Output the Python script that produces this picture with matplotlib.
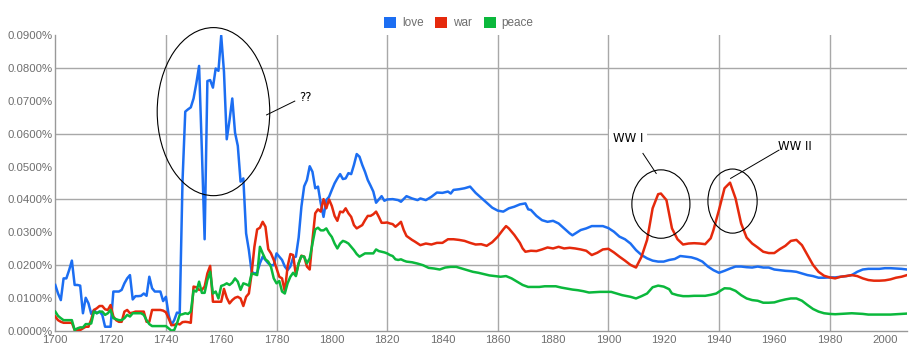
import matplotlib
matplotlib.use("Agg")
import matplotlib.pyplot as plt
from matplotlib.patches import Ellipse, Patch
from matplotlib.ticker import FuncFormatter, MultipleLocator

# ---------------- data (percent of corpus) ----------------
years_love = list(range(1700, 1821)) + [
    1822, 1824, 1825, 1827, 1829, 1831, 1832, 1834, 1836, 1838, 1840, 1842, 1843, 1844,
    1846, 1848, 1850, 1852, 1854, 1856, 1858, 1860, 1862, 1864, 1866, 1868, 1870, 1871,
    1872, 1874, 1876, 1878, 1880, 1882, 1884, 1886, 1887, 1890, 1892, 1894, 1896, 1898,
    1900, 1902, 1904, 1906, 1908, 1910, 1912, 1914, 1916, 1918, 1920, 1922, 1924, 1926,
    1928, 1930, 1932, 1934, 1936, 1938, 1940, 1942, 1944, 1946, 1948, 1950, 1952, 1954,
    1956, 1958, 1960, 1962, 1964, 1966, 1968, 1970, 1972, 1974, 1976, 1978, 1980, 1982,
    1984, 1986, 1988, 1990, 1992, 1994, 1996, 1998, 2000, 2002, 2004, 2006, 2008]
love = [
    0.0140, 0.0114, 0.0094, 0.0160, 0.0160, 0.0185, 0.0214, 0.0140, 0.0140, 0.0138,
    0.0054, 0.0101, 0.0084, 0.0052, 0.0064, 0.0054, 0.0059, 0.0049, 0.0013, 0.0013,
    0.0013, 0.0120, 0.0120, 0.0120, 0.0125, 0.0145, 0.0160, 0.0170, 0.0096, 0.0106,
    0.0106, 0.0107, 0.0114, 0.0107, 0.0165, 0.0130, 0.0120, 0.0120, 0.0120, 0.0091,
    0.0104, 0.0049, 0.0018, 0.0033, 0.0056, 0.0054, 0.0454, 0.0667, 0.0674, 0.0680,
    0.0707, 0.0753, 0.0806, 0.0550, 0.0279, 0.0760, 0.0763, 0.0740, 0.0798, 0.0791,
    0.0898, 0.0788, 0.0583, 0.0641, 0.0707, 0.0603, 0.0563, 0.0454, 0.0464, 0.0297,
    0.0246, 0.0180, 0.0175, 0.0177, 0.0206, 0.0226, 0.0216, 0.0206, 0.0200, 0.0200,
    0.0236, 0.0226, 0.0216, 0.0196, 0.0185, 0.0196, 0.0223, 0.0226, 0.0284, 0.0378,
    0.0440, 0.0459, 0.0501, 0.0484, 0.0434, 0.0439, 0.0388, 0.0347, 0.0398, 0.0408,
    0.0429, 0.0449, 0.0464, 0.0477, 0.0462, 0.0464, 0.0480, 0.0477, 0.0505, 0.0538,
    0.0530, 0.0505, 0.0484, 0.0459, 0.0442, 0.0424, 0.0390, 0.0400, 0.0410, 0.0396,
    0.0400,
    0.0401, 0.0398, 0.0393, 0.0410, 0.0403, 0.0398, 0.0403, 0.0398, 0.0408, 0.0421,
    0.0420, 0.0424, 0.0418, 0.0429, 0.0431, 0.0434, 0.0439, 0.0420, 0.0405, 0.0390,
    0.0375, 0.0366, 0.0363, 0.0373, 0.0378, 0.0385, 0.0388, 0.0370, 0.0368, 0.0350,
    0.0337, 0.0332, 0.0335, 0.0327, 0.0312, 0.0297, 0.0291, 0.0307, 0.0312, 0.0319,
    0.0319, 0.0319, 0.0313, 0.0302, 0.0287, 0.0279, 0.0266, 0.0246, 0.0231, 0.0221,
    0.0214, 0.0211, 0.0211, 0.0216, 0.0219, 0.0228, 0.0226, 0.0224, 0.0219, 0.0211,
    0.0196, 0.0185, 0.0177, 0.0183, 0.0190, 0.0196, 0.0196, 0.0194, 0.0193, 0.0196,
    0.0193, 0.0193, 0.0187, 0.0185, 0.0183, 0.0182, 0.0180, 0.0175, 0.0170, 0.0167,
    0.0162, 0.0162, 0.0163, 0.0163, 0.0165, 0.0167, 0.0170, 0.0180, 0.0187, 0.0189,
    0.0189, 0.0189, 0.0191, 0.0191, 0.0190, 0.0189, 0.0187]

years_war = list(range(1700, 1828)) + [
    1829, 1830, 1832, 1834, 1836, 1838, 1840, 1842, 1844, 1846, 1848, 1850, 1852, 1854,
    1856, 1858, 1860, 1862, 1863, 1864, 1866, 1868, 1869, 1870, 1872, 1874, 1876, 1878,
    1880, 1882, 1884, 1886, 1888, 1890, 1892, 1894, 1896, 1898, 1900, 1902, 1904, 1906,
    1908, 1910, 1912, 1914, 1916, 1918, 1919, 1921, 1923, 1925, 1927, 1929, 1931, 1933,
    1935, 1937, 1938, 1940, 1942, 1944, 1946, 1948, 1950, 1952, 1954, 1956, 1958, 1960,
    1962, 1964, 1966, 1968, 1970, 1972, 1974, 1976, 1978, 1980, 1982, 1984, 1986, 1988,
    1990, 1992, 1994, 1996, 1998, 2000, 2002, 2004, 2006, 2008]
war = [
    0.0044, 0.0033, 0.0028, 0.0025, 0.0025, 0.0025, 0.0025, 0.0003, 0.0003, 0.0003,
    0.0008, 0.0013, 0.0013, 0.0035, 0.0064, 0.0069, 0.0076, 0.0076, 0.0066, 0.0064,
    0.0079, 0.0044, 0.0033, 0.0028, 0.0028, 0.0059, 0.0064, 0.0054, 0.0056, 0.0059,
    0.0059, 0.0059, 0.0059, 0.0028, 0.0028, 0.0064, 0.0064, 0.0064, 0.0064, 0.0062,
    0.0057, 0.0038, 0.0018, 0.0018, 0.0023, 0.0020, 0.0027, 0.0028, 0.0027, 0.0025,
    0.0135, 0.0133, 0.0125, 0.0125, 0.0135, 0.0175, 0.0198, 0.0089, 0.0089, 0.0089,
    0.0089, 0.0128, 0.0101, 0.0084, 0.0094, 0.0101, 0.0104, 0.0099, 0.0076, 0.0104,
    0.0114, 0.0175, 0.0256, 0.0309, 0.0314, 0.0332, 0.0317, 0.0249, 0.0236, 0.0216,
    0.0190, 0.0165, 0.0160, 0.0120, 0.0196, 0.0234, 0.0231, 0.0170, 0.0206, 0.0229,
    0.0226, 0.0196, 0.0187, 0.0277, 0.0358, 0.0370, 0.0363, 0.0401, 0.0373, 0.0400,
    0.0380, 0.0350, 0.0335, 0.0363, 0.0361, 0.0373, 0.0358, 0.0347, 0.0322, 0.0312,
    0.0317, 0.0322, 0.0337, 0.0350, 0.0350, 0.0355, 0.0363, 0.0347, 0.0329, 0.0329,
    0.0330, 0.0327, 0.0325, 0.0317, 0.0324, 0.0332, 0.0307, 0.0289,
    0.0277, 0.0272, 0.0261, 0.0266, 0.0263, 0.0268, 0.0268, 0.0279, 0.0279, 0.0277,
    0.0274, 0.0268, 0.0263, 0.0264, 0.0259, 0.0270, 0.0287, 0.0309, 0.0319, 0.0312,
    0.0292, 0.0268, 0.0251, 0.0241, 0.0244, 0.0243, 0.0248, 0.0254, 0.0251, 0.0256,
    0.0251, 0.0253, 0.0251, 0.0248, 0.0244, 0.0231, 0.0238, 0.0248, 0.0250, 0.0239,
    0.0226, 0.0214, 0.0201, 0.0193, 0.0226, 0.0277, 0.0373, 0.0416, 0.0418, 0.0398,
    0.0312, 0.0279, 0.0263, 0.0266, 0.0267, 0.0266, 0.0264, 0.0282, 0.0307, 0.0368,
    0.0434, 0.0451, 0.0403, 0.0327, 0.0284, 0.0266, 0.0254, 0.0241, 0.0237, 0.0237,
    0.0249, 0.0259, 0.0274, 0.0277, 0.0261, 0.0231, 0.0201, 0.0180, 0.0168, 0.0163,
    0.0160, 0.0165, 0.0167, 0.0170, 0.0167, 0.0160, 0.0155, 0.0153, 0.0153, 0.0154,
    0.0157, 0.0162, 0.0165, 0.0170]

years_peace = list(range(1700, 1828)) + [
    1829, 1831, 1833, 1835, 1837, 1839, 1841, 1843, 1845, 1847, 1849, 1851, 1853, 1855,
    1857, 1859, 1861, 1863, 1865, 1867, 1869, 1871, 1873, 1875, 1877, 1879, 1881, 1883,
    1885, 1887, 1889, 1891, 1893, 1895, 1897, 1899, 1901, 1903, 1905, 1908, 1910, 1912,
    1914, 1916, 1918, 1920, 1922, 1923, 1925, 1927, 1929, 1931, 1933, 1935, 1937, 1939,
    1941, 1942, 1944, 1946, 1948, 1950, 1952, 1954, 1956, 1958, 1960, 1962, 1964, 1966,
    1968, 1970, 1972, 1974, 1976, 1978, 1980, 1982, 1984, 1986, 1988, 1990, 1992, 1994,
    1996, 1998, 2000, 2002, 2004, 2006, 2008]
peace = [
    0.0059, 0.0046, 0.0039, 0.0033, 0.0033, 0.0033, 0.0033, 0.0003, 0.0008, 0.0011,
    0.0011, 0.0021, 0.0021, 0.0023, 0.0059, 0.0054, 0.0059, 0.0059, 0.0049, 0.0054,
    0.0064, 0.0039, 0.0036, 0.0033, 0.0033, 0.0039, 0.0049, 0.0044, 0.0054, 0.0054,
    0.0054, 0.0054, 0.0049, 0.0033, 0.0021, 0.0015, 0.0015, 0.0015, 0.0015, 0.0015,
    0.0015, 0.0008, 0.0001, 0.0003, 0.0023, 0.0049, 0.0051, 0.0054, 0.0052, 0.0059,
    0.0123, 0.0120, 0.0150, 0.0116, 0.0116, 0.0155, 0.0180, 0.0114, 0.0120, 0.0099,
    0.0137, 0.0140, 0.0145, 0.0140, 0.0147, 0.0160, 0.0150, 0.0125, 0.0145, 0.0142,
    0.0138, 0.0175, 0.0173, 0.0170, 0.0256, 0.0236, 0.0218, 0.0211, 0.0195, 0.0160,
    0.0145, 0.0152, 0.0120, 0.0114, 0.0145, 0.0165, 0.0177, 0.0167, 0.0206, 0.0228,
    0.0226, 0.0206, 0.0221, 0.0266, 0.0309, 0.0314, 0.0306, 0.0306, 0.0312, 0.0297,
    0.0286, 0.0266, 0.0251, 0.0266, 0.0274, 0.0271, 0.0266, 0.0256, 0.0246, 0.0234,
    0.0226, 0.0231, 0.0236, 0.0236, 0.0236, 0.0236, 0.0248, 0.0243, 0.0241, 0.0239,
    0.0236, 0.0231, 0.0228, 0.0218, 0.0216, 0.0218, 0.0214, 0.0211,
    0.0209, 0.0205, 0.0200, 0.0192, 0.0190, 0.0187, 0.0193, 0.0195, 0.0195, 0.0190,
    0.0185, 0.0180, 0.0177, 0.0173, 0.0169, 0.0167, 0.0165, 0.0167, 0.0160, 0.0150,
    0.0140, 0.0134, 0.0134, 0.0134, 0.0136, 0.0136, 0.0136, 0.0132, 0.0129, 0.0126,
    0.0124, 0.0121, 0.0117, 0.0118, 0.0119, 0.0119, 0.0119, 0.0114, 0.0109, 0.0104,
    0.0099, 0.0106, 0.0114, 0.0133, 0.0138, 0.0135, 0.0127, 0.0114, 0.0109, 0.0106,
    0.0106, 0.0107, 0.0107, 0.0107, 0.0110, 0.0114, 0.0125, 0.0130, 0.0129, 0.0122,
    0.0109, 0.0099, 0.0094, 0.0092, 0.0086, 0.0086, 0.0087, 0.0092, 0.0096, 0.0099,
    0.0099, 0.0092, 0.0079, 0.0067, 0.0059, 0.0054, 0.0052, 0.0051, 0.0052, 0.0053,
    0.0054, 0.0053, 0.0052, 0.0050, 0.0050, 0.0050, 0.0050, 0.0050, 0.0051, 0.0052,
    0.0053]

series_names = ["love", "war", "peace"]
series_colors = ["#1c6ef2", "#e5290c", "#0bb83c"]
x_ticks = list(range(1700, 2001, 20))
x_grid = list(range(1740, 2001, 40))

# ---------------- figure ----------------
plt.rcParams['font.family'] = ['Liberation Sans', 'DejaVu Sans']
fig = plt.figure(figsize=(9.23, 3.56), dpi=100)
ax = fig.add_axes([0.0599, 0.0702, 0.9228, 0.8315])

for yrs, vals, c in zip([years_love, years_war, years_peace], [love, war, peace], series_colors):
    ax.plot(yrs, vals, color=c, lw=1.8, solid_joinstyle='round', zorder=3)

ax.set_xlim(1700, 2008)
ax.set_ylim(0, 0.09)
ax.set_xticks(x_ticks)
ax.yaxis.set_major_locator(MultipleLocator(0.01))
ax.yaxis.set_major_formatter(FuncFormatter(lambda v, p: "%.4f%%" % v))
ax.tick_params(length=0, labelsize=8.2, labelcolor='#6e6e6e', pad=3)
ax.tick_params(axis='y', pad=2)

gc = '#a8a8a8'
for g in x_grid:
    ax.axvline(g, color=gc, lw=1.0, zorder=1)
for g in [0.02, 0.04, 0.06, 0.08]:
    ax.axhline(g, color=gc, lw=1.0, zorder=1)

for s in ['top', 'right']:
    ax.spines[s].set_visible(False)
for s in ['left', 'bottom']:
    ax.spines[s].set_color('#999999')
    ax.spines[s].set_linewidth(1.0)

# annotations
ek = dict(fill=False, edgecolor='black', lw=0.8, zorder=4, clip_on=False)
ax.add_patch(Ellipse((1757.2, 0.0667), 40.7, 0.0511, **ek))
ax.add_patch(Ellipse((1919.0, 0.0386), 21.0, 0.0208, **ek))
ax.add_patch(Ellipse((1944.9, 0.0395), 17.8, 0.0195, **ek))
ax.plot([1776.4, 1786.6], [0.0657, 0.0699], color='black', lw=0.7, zorder=4)
ax.plot([1912.5, 1917.3], [0.0540, 0.0479], color='black', lw=0.7, zorder=4)
ax.plot([1961.7, 1944.2], [0.0550, 0.0464], color='black', lw=0.7, zorder=4)
tk = dict(fontsize=8.5, color='black', va='center', ha='left', family='DejaVu Sans', zorder=5)
ax.text(1788.3, 0.0711, "??", **tk)
ax.text(1901.6, 0.0584, "WW I", bbox=dict(facecolor='white', edgecolor='none', pad=2.5), **tk)
ax.text(1961.5, 0.0562, "WW II", **tk)

handles = [Patch(facecolor=c, edgecolor='none') for c in series_colors]
leg = fig.legend(handles, series_names, loc='center', bbox_to_anchor=(0.497, 0.935), ncol=3,
                 frameon=False, handlelength=1.0, handleheight=1.0, handletextpad=0.5,
                 columnspacing=1.0, fontsize=8.5)
for t in leg.get_texts():
    t.set_color('#6e6e6e')

fig.savefig("out.png", dpi=100)
